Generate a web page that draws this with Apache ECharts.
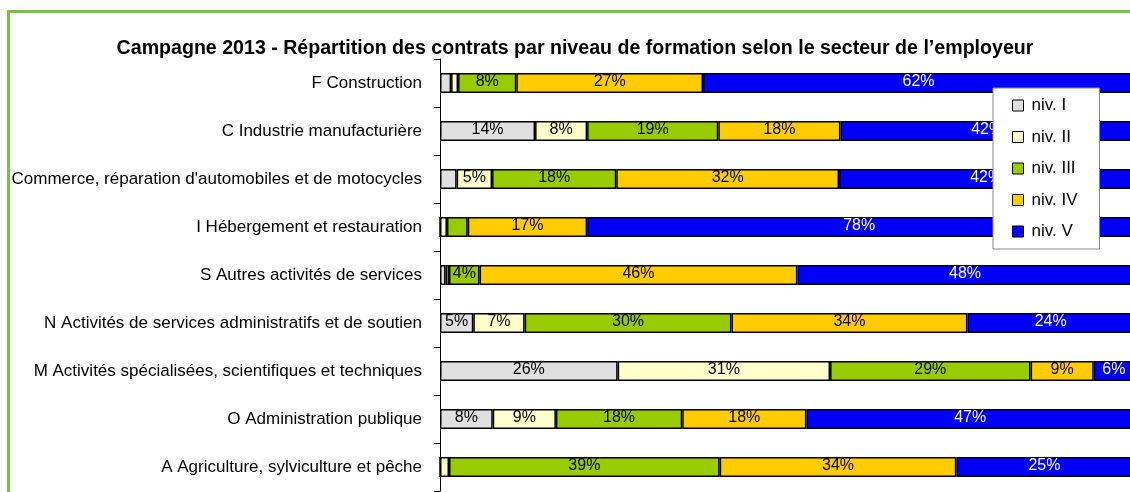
<!DOCTYPE html>
<html>
<head>
<meta charset="utf-8">
<script src="https://cdn.jsdelivr.net/npm/echarts@6/dist/echarts.min.js"></script>
<style>
  html, body { margin: 0; padding: 0; background: #fff; overflow: hidden; }
  #frame { position: absolute; left: 7px; top: 10px; width: 2000px; height: 2000px;
           border-left: 3px solid #7dc142; border-top: 3px solid #7dc142; }
  #main { position: absolute; left: 0; top: 0; width: 1150px; height: 492px; }
</style>
</head>
<body>
<div id="frame"></div>
<div id="main"></div>
<script>
// secteurs, de haut en bas
var secteurs = [
  'F Construction',
  'C Industrie manufacturière',
  "Commerce, réparation d'automobiles et de motocycles",
  'I Hébergement et restauration',
  'S Autres activités de services',
  'N Activités de services administratifs et de soutien',
  'M Activités spécialisées, scientifiques et techniques',
  'O Administration publique',
  'A Agriculture, sylviculture et pêche'
];

var niveaux = ['niv. I', 'niv. II', 'niv. III', 'niv. IV', 'niv. V'];
var couleurs = ['#e0e0e0', '#ffffcc', '#99cc00', '#ffcc00', '#0000ff'];

// parts en %
var niv1 = [1.6, 13.7, 2.4, 0,    0.8, 4.8, 25.6, 7.6, 0];
var niv2 = [1.0, 7.5,  5.1, 1.0,  0.5, 7.4, 30.6, 9.1, 1.3];
var niv3 = [8.4, 18.9, 17.9, 3.0, 4.4, 29.8, 28.9, 18.2, 39.0];
var niv4 = [26.9, 17.6, 32.1, 17.2, 45.8, 34.0, 9.1, 17.9, 34.1];
var niv5 = [62.1, 42.3, 42.4, 78.4, 48.3, 24.0, 5.8, 47.2, 25.4];

var valeurs = [niv1, niv2, niv3, niv4, niv5];

var police = 'Liberation Sans, Arial, sans-serif';

var series = niveaux.map(function (nom, i) {
  return {
    name: nom,
    type: 'bar',
    stack: 'total',
    barWidth: 20,
    data: valeurs[i],
    itemStyle: { color: couleurs[i], borderColor: '#000', borderWidth: 1.5 },
    label: {
      show: true,
      position: 'inside',
      fontFamily: police,
      fontSize: 16,
      offset: [0, -1],
      color: i === 4 ? '#fff' : '#000',
      formatter: function (p) {
        return p.value >= 4 ? Math.round(p.value) + '%' : '';
      }
    }
  };
});

var myChart = echarts.init(document.getElementById('main'));
var option = {
  animation: false,
  title: {
    text: 'Campagne 2013 - Répartition des contrats par niveau de formation selon le secteur de l’employeur',
    left: 'center',
    top: 34,
    textStyle: { fontFamily: police, fontSize: 19.6, fontWeight: 'bold', color: '#000' }
  },
  legend: {
    data: niveaux,
    orient: 'vertical',
    left: 993,
    top: 88,
    icon: 'rect',
    itemWidth: 11,
    itemHeight: 11,
    itemGap: 14.5,
    padding: [9, 22, 9, 19],
    backgroundColor: '#fff',
    borderColor: '#888',
    borderWidth: 1,
    itemStyle: { borderColor: '#000', borderWidth: 1 },
    textStyle: { fontFamily: police, fontSize: 17, color: '#000', lineHeight: 16, padding: [0, 0, 0, 3] }
  },
  grid: {
    left: 440,
    top: 59,
    width: 694,
    height: 432
  },
  xAxis: {
    type: 'value',
    min: 0,
    max: 100,
    show: false
  },
  yAxis: {
    type: 'category',
    inverse: true,
    data: secteurs,
    axisLine: { show: true, lineStyle: { color: '#000', width: 1 } },
    axisTick: { show: true, length: 6, lineStyle: { color: '#000' } },
    axisLabel: { fontFamily: police, fontSize: 17, color: '#000', margin: 18 }
  },
  series: series
};
myChart.setOption(option);
</script>
</body>
</html>
